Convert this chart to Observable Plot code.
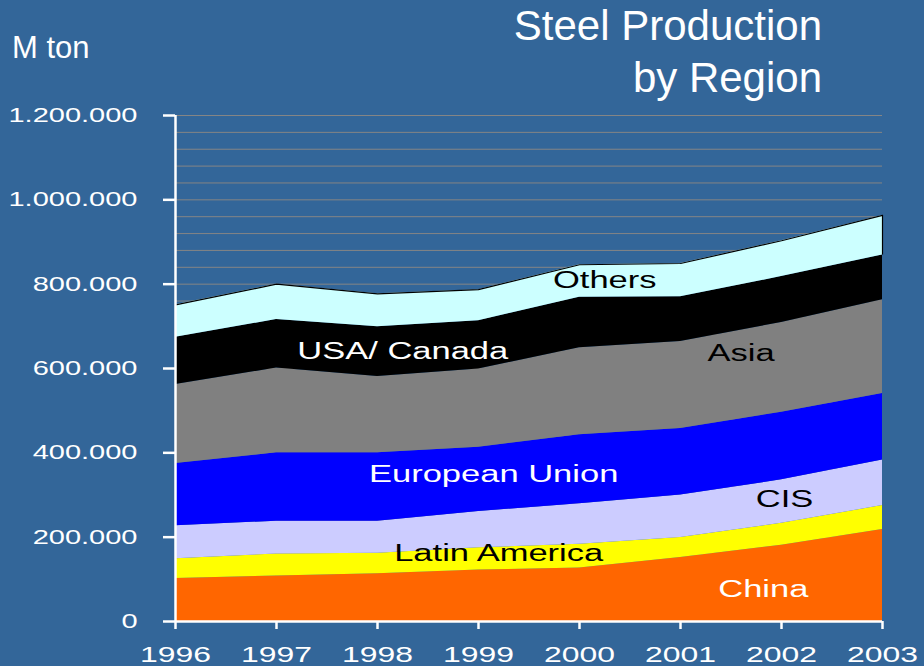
<!DOCTYPE html>
<html><head><meta charset="utf-8">
<script src="https://cdn.jsdelivr.net/npm/d3@7"></script>
<script src="https://cdn.jsdelivr.net/npm/@observablehq/plot@0.6"></script>
<style>
html,body{margin:0;padding:0;background:#336699;}
#chart{position:relative;width:924px;height:666px;overflow:hidden;}
</style></head><body><div id="chart"></div>
<script>
// ---- data (thousand tonnes) ----
const years = [1996, 1997, 1998, 1999, 2000, 2001, 2002, 2003];
const regions = ["China", "Latin America", "CIS", "European Union", "Asia", "USA/ Canada", "Others"];
const china        = [102000, 108000, 113000, 122000, 127000, 152000, 181000, 218000];
const latinAmerica = [ 47000,  52000,  49000,  53000,  56000,  47000,  52000,  57000];
const cis          = [ 78000,  78000,  76000,  86000,  96000, 101000, 103000, 108000];
const europeanUnion= [148000, 162000, 162000, 152000, 164000, 158000, 160000, 158000];
const asia         = [187000, 201000, 181000, 186000, 206000, 206000, 213000, 222000];
const usaCanada    = [112000, 115000, 118000, 114000, 120000, 106000, 109000, 106000];
const others       = [ 77000,  84000,  78000,  74000,  77000,  79000,  85000,  94000];
const yTickValues  = [0, 200000, 400000, 600000, 800000, 1000000, 1200000];
const gridValues   = [0, 40000, 80000, 120000, 160000, 200000, 240000, 280000, 320000, 360000, 400000,
  440000, 480000, 520000, 560000, 600000, 640000, 680000, 720000, 760000, 800000, 840000, 880000,
  920000, 960000, 1000000, 1040000, 1080000, 1120000, 1160000, 1200000];
const labelTexts   = ["Others", "USA/ Canada", "Asia", "European Union", "CIS", "Latin America", "China"];
const labelYears   = [2000.25, 1998.25, 2001.6, 1999.15, 2002.03, 1999.2, 2001.82];
const labelValues  = [790000, 622500, 618500, 330000, 272000, 144000, 57000];

const regionColors = ["#FF6600", "#FFFF00", "#CCCCFF", "#0000FF", "#808080", "#000000", "#CCFFFF"];
const whiteLabels = new Set(["USA/ Canada", "European Union", "China"]);

const series = [china, latinAmerica, cis, europeanUnion, asia, usaCanada, others];
const data = [];
regions.forEach((r, i) => years.forEach((y, j) => data.push({region: r, year: y, value: series[i][j]})));
const totals = years.map((y, j) => ({year: y, top: d3.sum(series, s => s[j]), base: d3.sum(series.slice(0, -1), s => s[j])}));
const labels = labelTexts.map((t, i) => ({text: t, year: labelYears[i], value: labelValues[i]}));

const fmt = d3.formatLocale({decimal: ",", thousands: ".", grouping: [3], currency: ["", ""]}).format(",d");
const font = "'Liberation Sans', Arial, sans-serif";

const chart = Plot.plot({
  width: 924, height: 666,
  marginLeft: 175, marginRight: 42, marginTop: 115, marginBottom: 45,
  style: {background: "#336699", color: "white", fontFamily: font, fontSize: "20px", overflow: "visible"},
  x: {domain: [1996, 2003], ticks: years, tickFormat: d => String(d), tickSize: 8, tickPadding: 17, label: null},
  y: {domain: [0, 1200000], ticks: yTickValues, tickFormat: fmt, tickSize: 12, tickPadding: 26, label: null},
  color: {domain: regions, range: regionColors},
  marks: [
    Plot.ruleY(gridValues, {stroke: "#858585", strokeWidth: 1}),
    Plot.areaY(data, {x: "year", y: "value", z: "region", fill: "region", order: regions}),
    Plot.lineY(totals, {x: "year", y: "top", stroke: "black", strokeWidth: 1.2}),
    Plot.ruleX(totals.slice(-1), {x: "year", y1: "base", y2: "top", stroke: "black", strokeWidth: 1.2}),
    Plot.ruleX([1996], {stroke: "white", strokeWidth: 2.5}),
    Plot.ruleY([0], {stroke: "white", strokeWidth: 2.5}),
    Plot.text(labels, {filter: d => whiteLabels.has(d.text), x: "year", y: "value", text: "text", fill: "white", fontSize: 23, lineAnchor: "bottom"}),
    Plot.text(labels, {filter: d => !whiteLabels.has(d.text), x: "year", y: "value", text: "text", fill: "black", fontSize: 23, lineAnchor: "bottom"})
  ]
});
document.getElementById("chart").appendChild(chart);

const svg = d3.select(chart);
svg.selectAll('g[aria-label^="x-axis"] text').attr("font-size", 22);
svg.selectAll('g[aria-label^="y-axis"] text').attr("font-size", 20);
svg.selectAll('g[aria-label^="x-axis"] line, g[aria-label^="x-axis"] path, g[aria-label^="y-axis"] line, g[aria-label^="y-axis"] path')
  .attr("stroke-width", 2.5);

function stretch(sel, f) {
  sel.each(function () {
    const len = this.getComputedTextLength();
    this.setAttribute("textLength", len * f);
    this.setAttribute("lengthAdjust", "spacingAndGlyphs");
  });
}
stretch(svg.selectAll('g[aria-label^="x-axis"] text, g[aria-label^="y-axis"] text'), 1.45);
stretch(svg.selectAll('g[aria-label="text"] text'), 1.5);

// title and unit
svg.append("text").attr("x", 822).attr("y", 40).attr("text-anchor", "end")
  .attr("font-family", font).attr("font-size", 42).attr("fill", "white").text("Steel Production");
svg.append("text").attr("x", 822).attr("y", 92).attr("text-anchor", "end")
  .attr("font-family", font).attr("font-size", 42).attr("fill", "white").text("by Region");
svg.append("text").attr("x", 12).attr("y", 58).attr("text-anchor", "start")
  .attr("font-family", font).attr("font-size", 31).attr("fill", "white").text("M ton");
</script>
</body></html>
